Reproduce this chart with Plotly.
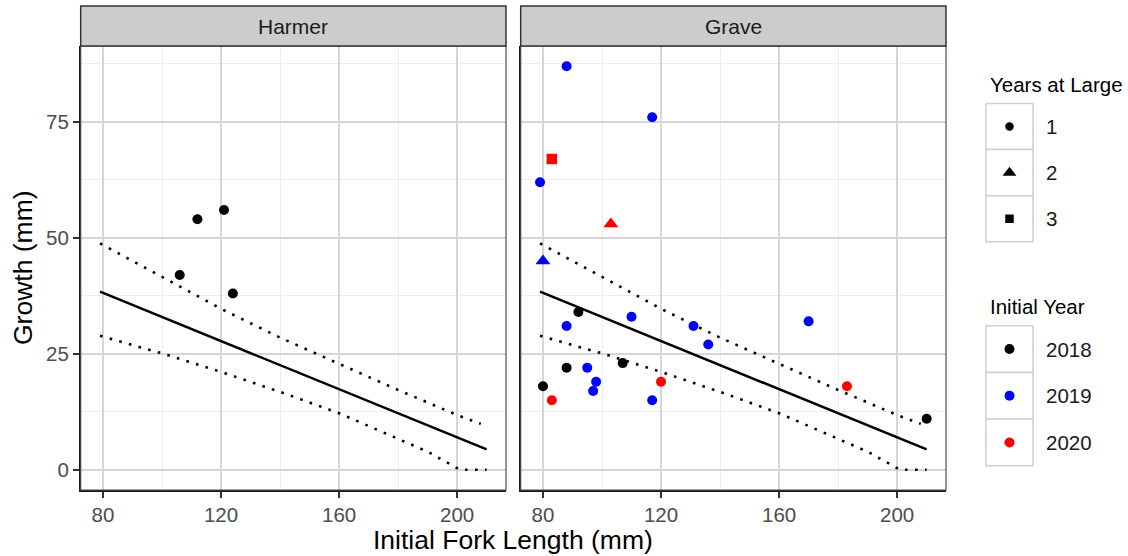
import plotly.graph_objects as go

# ---------------- data ----------------
harmer_x = [106, 112, 121, 124]
harmer_y = [42, 54, 56, 38]
harmer_year = [2018, 2018, 2018, 2018]
harmer_yal = [1, 1, 1, 1]

grave_x = [88, 117, 83, 79, 103, 80, 92, 88, 110, 131, 136, 170, 88, 95, 107, 98, 97, 80, 83, 120, 117, 183, 210]
grave_y = [87, 76, 67, 62, 53, 45, 34, 31, 33, 31, 27, 32, 22, 22, 23, 19, 17, 18, 15, 19, 15, 18, 11]
grave_year = [2019, 2019, 2020, 2019, 2020, 2019, 2018, 2019, 2019, 2019, 2019, 2019, 2018, 2019, 2018,
              2019, 2019, 2018, 2020, 2020, 2019, 2020, 2018]
grave_yal = [1, 1, 3, 1, 2, 2, 1, 1, 1, 1, 1, 1, 1, 1, 1, 1, 1, 1, 1, 1, 1, 1, 1]

fit_x = [79, 210]
fit_y = [38.4, 4.4]
upper_x = [79, 100, 120, 140, 160, 180, 200, 208]
upper_y = [48.8, 41.5, 34.7, 28.5, 22.8, 17.2, 11.8, 9.9]
lower_x = [79, 100, 120, 140, 160, 180, 190, 201, 210]
lower_y = [28.9, 25.1, 21.1, 16.8, 12.2, 6.7, 3.9, 0, 0]

panels = ["Harmer", "Grave"]
x_ticks = [80, 120, 160, 200]
x_minor = [100, 140, 180]
y_ticks = [0, 25, 50, 75]
y_minor = [12.5, 37.5, 62.5, 87.5]

years = [2018, 2019, 2020]
year_labels = ["2018", "2019", "2020"]
yal_levels = [1, 2, 3]
yal_labels = ["1", "2", "3"]

# ---------------- style ----------------
W, H = 1128, 556
FONT = "Liberation Sans, Arial, sans-serif"
year_color = {2018: "#000000", 2019: "#0000FF", 2020: "#FF0000"}
yal_symbol = {1: "circle", 2: "triangle-up", 3: "square"}
yal_size = {1: 10, 2: 13, 3: 10.5}


def px(x):
    return x / W


def py(y):
    return 1 - y / H


PLOT_TOP, PLOT_BOT = 46, 490
STRIP_TOP = 6
panel_x = [(80.7, 506.0), (520.7, 946.0)]

fig = go.Figure()

data_sets = [
    (harmer_x, harmer_y, harmer_year, harmer_yal),
    (grave_x, grave_y, grave_year, grave_yal),
]

DOT = dict(color="black", width=2.6, dash="2.6px,7.4px")

for i, (xs, ys, yrs, yals) in enumerate(data_sets):
    xa = "x" if i == 0 else "x2"
    ya = "y" if i == 0 else "y2"
    # fitted line and bands
    fig.add_trace(go.Scatter(x=upper_x, y=upper_y, mode="lines", xaxis=xa, yaxis=ya,
                             line=DOT, showlegend=False, hoverinfo="skip"))
    fig.add_trace(go.Scatter(x=lower_x, y=lower_y, mode="lines", xaxis=xa, yaxis=ya,
                             line=DOT, showlegend=False, hoverinfo="skip"))
    fig.add_trace(go.Scatter(x=fit_x, y=fit_y, mode="lines", xaxis=xa, yaxis=ya,
                             line=dict(color="black", width=2.5),
                             showlegend=False, hoverinfo="skip"))
    for yr in years:
        for yl in yal_levels:
            sx = [x for x, a, b in zip(xs, yrs, yals) if a == yr and b == yl]
            sy = [y for y, a, b in zip(ys, yrs, yals) if a == yr and b == yl]
            if not sx:
                continue
            fig.add_trace(go.Scatter(
                x=sx, y=sy, mode="markers", xaxis=xa, yaxis=ya,
                marker=dict(color=year_color[yr], symbol=yal_symbol[yl], size=yal_size[yl],
                            opacity=1, line=dict(width=0)),
                showlegend=False))

axis_common = dict(
    ticks="outside", ticklen=6, tickwidth=1.5, tickcolor="#333333",
    showline=True, linecolor="#1A1A1A", linewidth=1.5,
    showgrid=True, gridcolor="#D6D6D6", gridwidth=2,
    zeroline=False, automargin=False, fixedrange=True,
    tickfont=dict(family=FONT, size=20.5, color="#4D4D4D"),
)

for i in range(2):
    xname = "xaxis" if i == 0 else "xaxis2"
    yname = "yaxis" if i == 0 else "yaxis2"
    xa_anchor = "y" if i == 0 else "y2"
    ya_anchor = "x" if i == 0 else "x2"
    fig.update_layout(**{
        xname: dict(axis_common, domain=[px(panel_x[i][0]), px(panel_x[i][1])],
                    range=[72.45, 216.55], anchor=xa_anchor,
                    tickmode="array", tickvals=x_ticks, ticktext=[str(v) for v in x_ticks],
                    minor=dict(tickvals=x_minor, showgrid=True, gridcolor="#EDEDED",
                               gridwidth=1, ticks="")),
        yname: dict(axis_common, domain=[py(PLOT_BOT), py(PLOT_TOP)],
                    range=[-4.35, 91.35], anchor=ya_anchor,
                    tickmode="array", tickvals=y_ticks, ticktext=[str(v) for v in y_ticks],
                    showticklabels=(i == 0), ticks=("outside" if i == 0 else ""),
                    minor=dict(tickvals=y_minor, showgrid=True, gridcolor="#EDEDED",
                               gridwidth=1, ticks="")),
    })

# overlay axis in pixel coordinates for legend keys
fig.update_layout(
    xaxis3=dict(domain=[0, 1], range=[0, W], visible=False, anchor="y3", fixedrange=True),
    yaxis3=dict(domain=[0, 1], range=[H, 0], visible=False, anchor="x3", fixedrange=True),
)

shapes = []
annotations = []

# panel borders, strips
for i, name in enumerate(panels):
    x0, x1 = panel_x[i]
    shapes.append(dict(type="rect", xref="paper", yref="paper",
                       x0=px(x0), x1=px(x1), y0=py(PLOT_BOT), y1=py(PLOT_TOP),
                       line=dict(color="#4D4D4D", width=1.2), fillcolor="rgba(0,0,0,0)",
                       layer="above"))
    shapes.append(dict(type="rect", xref="paper", yref="paper",
                       x0=px(x0), x1=px(x1), y0=py(PLOT_TOP), y1=py(STRIP_TOP),
                       line=dict(color="#333333", width=1.5), fillcolor="#CCCCCC",
                       layer="above"))
    annotations.append(dict(text=name, xref="paper", yref="paper",
                            x=px((x0 + x1) / 2), y=py((PLOT_TOP + STRIP_TOP) / 2),
                            xanchor="center", yanchor="middle", showarrow=False,
                            font=dict(family=FONT, size=21, color="#1A1A1A")))

# axis titles
annotations.append(dict(text="Initial Fork Length (mm)", xref="paper", yref="paper",
                        x=px((panel_x[0][0] + panel_x[1][1]) / 2), y=py(540),
                        xanchor="center", yanchor="middle", showarrow=False,
                        font=dict(family=FONT, size=26.5, color="#000000")))
annotations.append(dict(text="Growth (mm)", xref="paper", yref="paper",
                        x=px(23), y=py((PLOT_TOP + PLOT_BOT) / 2), textangle=-90,
                        xanchor="center", yanchor="middle", showarrow=False,
                        font=dict(family=FONT, size=26.5, color="#000000")))

# ---------------- manual legends ----------------
KEY_X0, KEY_X1 = 986, 1033
KEY_CX = (KEY_X0 + KEY_X1) / 2
LABEL_X = 1044


def legend_block(title, title_y, top, row_h, labels, colors, symbols, sizes):
    annotations.append(dict(text=title, xref="paper", yref="paper", x=px(988), y=py(title_y),
                            xanchor="left", yanchor="middle", showarrow=False,
                            font=dict(family=FONT, size=20.5, color="#000000")))
    cys = []
    for k, lab in enumerate(labels):
        y0 = top + k * row_h
        y1 = y0 + row_h
        cy = (y0 + y1) / 2
        cys.append(cy)
        shapes.append(dict(type="rect", xref="paper", yref="paper",
                           x0=px(KEY_X0), x1=px(KEY_X1), y0=py(y1), y1=py(y0),
                           line=dict(color="#CFCFCF", width=1.5), fillcolor="#FFFFFF",
                           layer="below"))
        annotations.append(dict(text=lab, xref="paper", yref="paper", x=px(LABEL_X), y=py(cy),
                                xanchor="left", yanchor="middle", showarrow=False,
                                font=dict(family=FONT, size=20.5, color="#1A1A1A")))
    fig.add_trace(go.Scatter(x=[KEY_CX] * len(labels), y=cys, mode="markers",
                             xaxis="x3", yaxis="y3",
                             marker=dict(color=colors, symbol=symbols, size=sizes, opacity=1,
                                         line=dict(width=0)),
                             showlegend=False, hoverinfo="skip"))


legend_block("Years at Large", 85, 103.5, 46.1, yal_labels,
             ["#000000"] * len(yal_levels), [yal_symbol[v] for v in yal_levels], [8.5, 12, 8.5])
legend_block("Initial Year", 306.5, 325.7, 46.7, year_labels,
             [year_color[v] for v in years], ["circle"] * len(years), [10, 10, 10])

fig.update_layout(
    width=W, height=H,
    margin=dict(l=0, r=0, t=0, b=0),
    paper_bgcolor="white", plot_bgcolor="rgba(0,0,0,0)",
    template="none",
    showlegend=False,
    shapes=shapes, annotations=annotations,
    font=dict(family=FONT),
)

fig.write_html("out.html")
